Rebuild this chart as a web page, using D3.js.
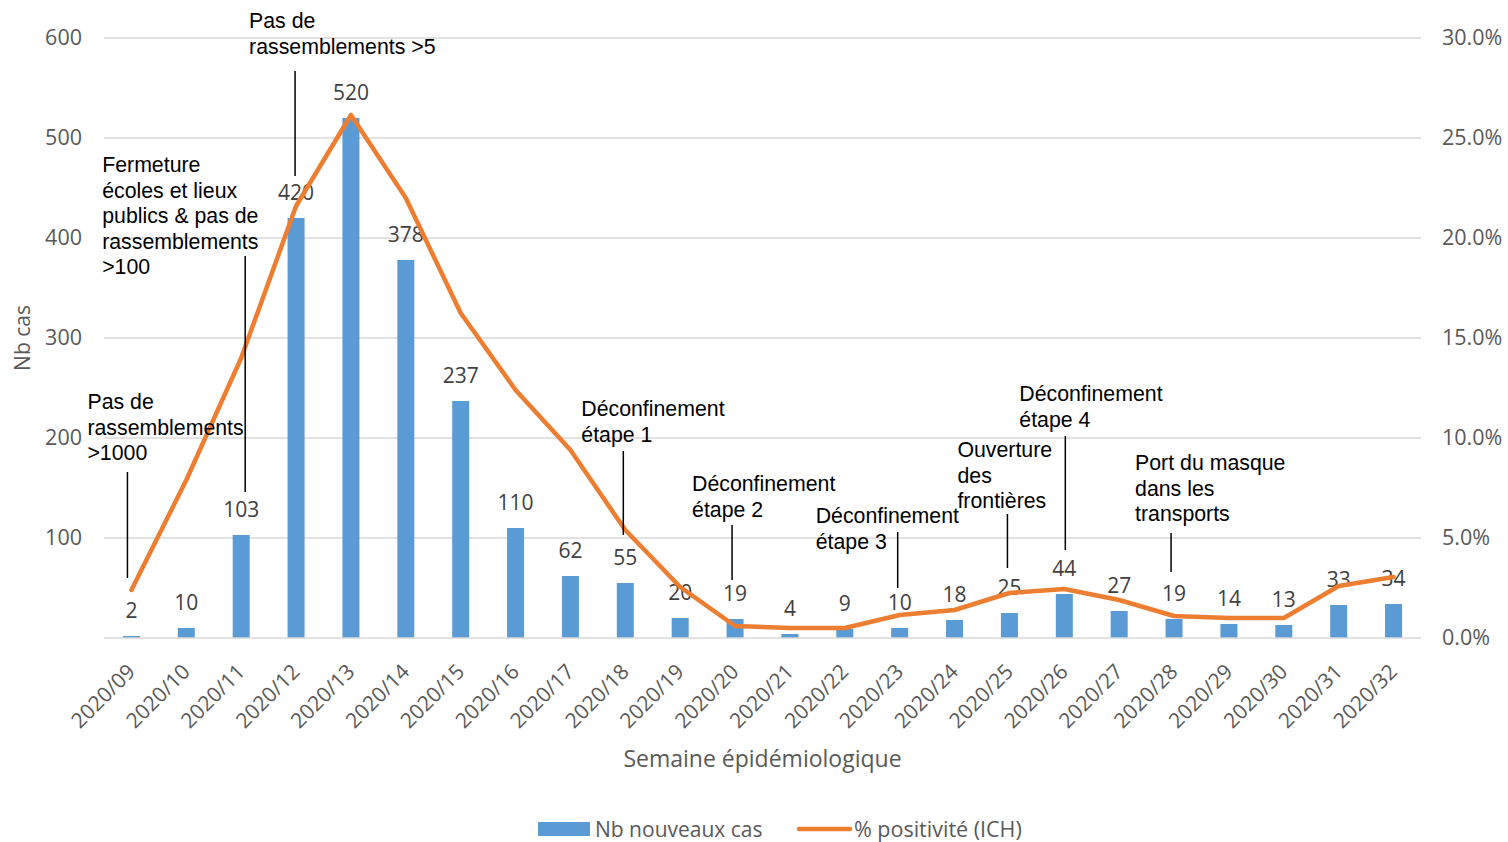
<!DOCTYPE html>
<html>
<head>
<meta charset="utf-8">
<script src="https://cdn.jsdelivr.net/npm/d3@7"></script>
<style>
  body { margin: 0; background: #fff; }
  svg { display: block; }
</style>
</head>
<body>
<div class="canvas"></div>
<script>
const w = 1508;
const h = 842;

// data
const weeks = ["2020/09", "2020/10", "2020/11", "2020/12", "2020/13", "2020/14", "2020/15", "2020/16",
  "2020/17", "2020/18", "2020/19", "2020/20", "2020/21", "2020/22", "2020/23", "2020/24",
  "2020/25", "2020/26", "2020/27", "2020/28", "2020/29", "2020/30", "2020/31", "2020/32"];
const cases = [2, 10, 103, 420, 520, 378, 237, 110, 62, 55, 20, 19, 4, 9, 10, 18, 25, 44, 27, 19, 14, 13, 33, 34];
const positivity = [0.024, 0.079, 0.14, 0.216, 0.2615, 0.22, 0.1625, 0.124, 0.094, 0.054, 0.0255, 0.006,
  0.005, 0.005, 0.0115, 0.014, 0.0225, 0.0245, 0.019, 0.011, 0.01, 0.01, 0.026, 0.0305];
const leftTicks = [100, 200, 300, 400, 500, 600];
const rightTicks = [0, 0.05, 0.10, 0.15, 0.20, 0.25, 0.30];

// annotations (text + week they point to)
const annoWeeks = ["2020/09", "2020/11", "2020/12", "2020/18", "2020/20", "2020/23", "2020/25", "2020/26", "2020/28"];
const annoTexts = [
  ["Pas de", "rassemblements", ">1000"],
  ["Fermeture", "écoles et lieux", "publics & pas de", "rassemblements", ">100"],
  ["Pas de", "rassemblements >5"],
  ["Déconfinement", "étape 1"],
  ["Déconfinement", "étape 2"],
  ["Déconfinement", "étape 3"],
  ["Ouverture", "des", "frontières"],
  ["Déconfinement", "étape 4"],
  ["Port du masque", "dans les", "transports"]
];
// layout for annotations: text dx from week centre, first baseline, leader dx, leader top/bottom
const annoLayout = [
  { tx: -44, ty: 409, lx: -4, y1: 472, y2: 578 },
  { tx: -139, ty: 172, lx: 4, y1: 256, y2: 492 },
  { tx: -47, ty: 28, lx: -1, y1: 71, y2: 176 },
  { tx: -44, ty: 416, lx: -2, y1: 451, y2: 535 },
  { tx: -43, ty: 491, lx: -3, y1: 525, y2: 580 },
  { tx: -84, ty: 523, lx: -2, y1: 532, y2: 588 },
  { tx: -52, ty: 457, lx: -2, y1: 514, y2: 568 },
  { tx: -45, ty: 401, lx: 1, y1: 436, y2: 550 },
  { tx: -39, ty: 470, lx: -3, y1: 533, y2: 572 }
];

const svg = d3.select(".canvas").append("svg").attr("width", w).attr("height", h);

const margin = { top: 38, right: 87, bottom: 204, left: 104 };
const plotRight = w - margin.right;
const plotBottom = h - margin.bottom;

const x = d3.scaleBand().domain(weeks).range([margin.left, plotRight]).paddingInner(0.69).paddingOuter(0.345);
const y = d3.scaleLinear().domain([0, 600]).range([plotBottom, margin.top]);
const y2 = d3.scaleLinear().domain([0, 0.30]).range([plotBottom, margin.top]);
const cx = (d) => x(d) + x.bandwidth() / 2;

const gray = "#595959";
const tickFont = "'Open Sans', sans-serif";
const annoFont = "'Liberation Sans', Arial, sans-serif";

// gridlines
svg.append("g")
  .selectAll("line")
  .data(leftTicks)
  .enter()
  .append("line")
  .attr("x1", margin.left)
  .attr("x2", plotRight)
  .attr("y1", (d) => y(d))
  .attr("y2", (d) => y(d))
  .attr("stroke", "#d9d9d9")
  .attr("stroke-width", 1.5);

// left axis
const yAxis = d3.axisLeft(y).tickValues([0].concat(leftTicks)).tickSize(0).tickPadding(22).tickFormat((d) => d === 0 ? "" : d);
svg.append("g")
  .attr("transform", `translate(${margin.left}, 0)`)
  .call(yAxis)
  .call((g) => g.select(".domain").remove())
  .selectAll("text")
  .attr("fill", gray)
  .style("font-family", tickFont)
  .style("font-size", "21.5px");

// right axis
const yAxisR = d3.axisRight(y2).tickValues(rightTicks).tickSize(0).tickPadding(21).tickFormat(d3.format(".1%"));
svg.append("g")
  .attr("transform", `translate(${plotRight}, 0)`)
  .call(yAxisR)
  .call((g) => g.select(".domain").remove())
  .selectAll("text")
  .attr("fill", gray)
  .style("font-family", tickFont)
  .style("font-size", "21.5px");

// bars
svg.append("g")
  .selectAll("rect")
  .data(cases)
  .enter()
  .append("rect")
  .attr("x", (d, i) => x(weeks[i]))
  .attr("y", (d) => y(d))
  .attr("width", x.bandwidth())
  .attr("height", (d) => plotBottom - y(d))
  .attr("fill", "#5b9bd5");

// baseline
svg.append("line")
  .attr("x1", margin.left)
  .attr("x2", plotRight)
  .attr("y1", plotBottom)
  .attr("y2", plotBottom)
  .attr("stroke", "#d9d9d9")
  .attr("stroke-width", 1.5);

// x axis
const xAxis = d3.axisBottom(x).tickSize(0).tickPadding(0);
svg.append("g")
  .attr("transform", `translate(0, ${plotBottom})`)
  .call(xAxis)
  .call((g) => g.select(".domain").remove())
  .selectAll("text")
  .attr("fill", gray)
  .style("font-family", tickFont)
  .style("font-size", "21px")
  .attr("text-anchor", "end")
  .attr("dy", "0")
  .attr("transform", "translate(5, 35) rotate(-45)");

// bar labels
svg.append("g")
  .selectAll("text")
  .data(cases)
  .enter()
  .append("text")
  .attr("x", (d, i) => cx(weeks[i]))
  .attr("y", (d) => y(d) - 18)
  .attr("text-anchor", "middle")
  .attr("fill", "#404040")
  .style("font-family", tickFont)
  .style("font-size", "21px")
  .text((d) => d);

// positivity line
const line = d3.line()
  .x((d, i) => cx(weeks[i]))
  .y((d) => y2(d));
svg.append("path")
  .datum(positivity)
  .attr("d", line)
  .attr("fill", "none")
  .attr("stroke", "#ed7d31")
  .attr("stroke-width", 4.5)
  .attr("stroke-linejoin", "round")
  .attr("stroke-linecap", "round");

// annotations
annoWeeks.forEach((wk, i) => {
  const L = annoLayout[i];
  const g = svg.append("g");
  g.append("line")
    .attr("x1", cx(wk) + L.lx)
    .attr("x2", cx(wk) + L.lx)
    .attr("y1", L.y1)
    .attr("y2", L.y2)
    .attr("stroke", "#000")
    .attr("stroke-width", 1.5);
  g.append("text")
    .attr("x", cx(wk) + L.tx)
    .attr("y", L.ty)
    .style("font-family", annoFont)
    .style("font-size", "21.3px")
    .attr("fill", "#000")
    .selectAll("tspan")
    .data(annoTexts[i])
    .enter()
    .append("tspan")
    .attr("x", cx(wk) + L.tx)
    .attr("dy", (d, j) => (j === 0 ? 0 : 25.6))
    .text((d) => d);
});

// axis titles
svg.append("text")
  .attr("transform", `translate(30, ${(margin.top + plotBottom) / 2}) rotate(-90)`)
  .attr("text-anchor", "middle")
  .attr("fill", gray)
  .style("font-family", tickFont)
  .style("font-size", "21px")
  .text("Nb cas");

svg.append("text")
  .attr("x", (margin.left + plotRight) / 2)
  .attr("y", 767)
  .attr("text-anchor", "middle")
  .attr("fill", gray)
  .style("font-family", tickFont)
  .style("font-size", "23px")
  .text("Semaine épidémiologique");

// legend
const legend = svg.append("g");
legend.append("rect").attr("x", 538).attr("y", 822).attr("width", 52).attr("height", 14).attr("fill", "#5b9bd5");
legend.append("text").attr("x", 595).attr("y", 837).attr("fill", gray)
  .style("font-family", tickFont).style("font-size", "21px").text("Nb nouveaux cas");
legend.append("line").attr("x1", 799).attr("x2", 850).attr("y1", 829).attr("y2", 829)
  .attr("stroke", "#ed7d31").attr("stroke-width", 4.5).attr("stroke-linecap", "round");
legend.append("text").attr("x", 854).attr("y", 837).attr("fill", gray)
  .style("font-family", tickFont).style("font-size", "21.5px").text("% positivité (ICH)");
</script>
</body>
</html>
